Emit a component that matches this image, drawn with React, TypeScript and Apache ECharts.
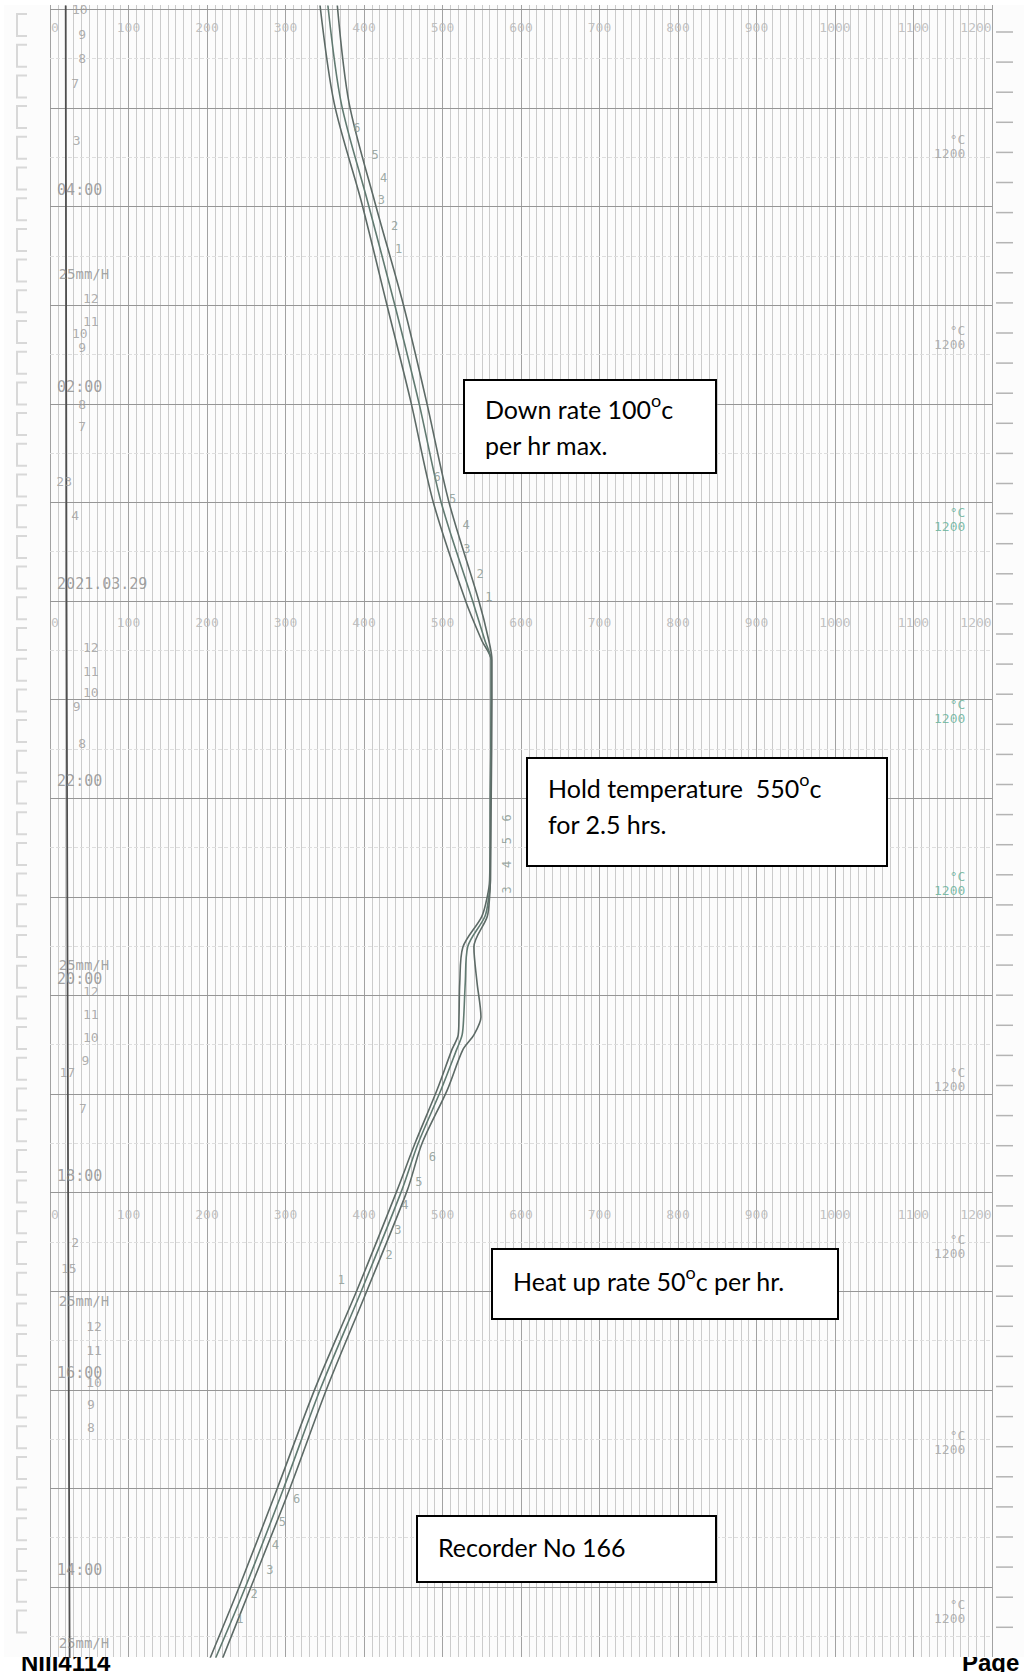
import React, { useEffect, useRef } from 'react';
import * as echarts from 'echarts';

// ---- DATA (temperature in °C on x, time in hours after 14:00 on y) ----
const tempTicks = [0, 100, 200, 300, 400, 500, 600, 700, 800, 900, 1000, 1100, 1200];
const scaleRowTimes = [15.65, 9.61, 3.61];
const hourLines = [-0.17, 0.83, 1.83, 2.83, 3.83, 4.83, 5.83, 6.83, 7.83, 8.83, 9.83, 10.83, 11.83, 12.83, 13.83, 14.83, 15.83];
const halfHourLines = [-0.67, 0.33, 1.33, 2.33, 3.33, 4.33, 5.33, 6.33, 7.33, 8.33, 9.33, 10.33, 11.33, 12.33, 13.33, 14.33, 15.33];
const timeLabelValues = [0, 2, 4, 6, 8, 10, 12, 14];
const timeLabelTexts = ['14:00', '16:00', '18:00', '20:00', '22:00', '2021.03.29', '02:00', '04:00'];
const speedMarkTimes = [13.15, 6.14, 2.73, -0.74];
const rangeLabelTimes = [14.44, 12.5, 10.66, 8.71, 6.96, 4.98, 3.28, 1.3, -0.42];
const rangeLabelTeal = [false, false, true, true, true, false, false, false, false];

const ambientTrace = [[25, -0.89], [23, 4], [21, 10], [20, 15.87]];

const traceA = [[204, -0.89], [242, -0.15], [290, 0.84], [338, 1.85], [391, 2.84], [442, 3.85], [465, 4.33], [493, 4.87], [512, 5.28], [520, 5.43], [521, 5.61], [522, 5.96], [526, 6.32], [550, 6.63], [557, 6.83], [560, 7.0], [561, 7.81], [562, 8.83], [562, 9.23], [550, 9.43], [529, 9.84], [488, 10.84], [460, 11.84], [429, 12.84], [397, 13.87], [362, 14.88], [344, 15.87]];
const traceB = [[211, -0.89], [250, -0.15], [298, 0.84], [345, 1.85], [397, 2.84], [448, 3.85], [469, 4.33], [498, 4.87], [518, 5.28], [525, 5.43], [527, 5.61], [529, 5.96], [532, 6.32], [554, 6.63], [559, 6.83], [561, 7.0], [561, 7.81], [562, 8.83], [562, 9.23], [554, 9.43], [538, 9.84], [498, 10.84], [470, 11.84], [439, 12.84], [405, 13.87], [371, 14.88], [354, 15.87]];
const traceC = [[220, -0.89], [257, -0.15], [306, 0.84], [353, 1.85], [404, 2.84], [455, 3.85], [474, 4.33], [506, 4.87], [526, 5.28], [540, 5.43], [549, 5.61], [544, 5.96], [540, 6.32], [557, 6.63], [560, 6.83], [561, 7.0], [562, 7.81], [563, 8.83], [563, 9.23], [559, 9.43], [546, 9.84], [508, 10.84], [480, 11.84], [450, 12.84], [414, 13.87], [381, 14.88], [366, 15.87]];

const penMarks: [number, number, string][] = [
  [391, 14.63, '6'], [414, 14.35, '5'], [425, 14.12, '4'], [422, 13.9, '3'], [439, 13.63, '2'], [444, 13.4, '1'],
  [493, 11.09, '6'], [513, 10.86, '5'], [530, 10.6, '4'], [531, 10.36, '3'], [548, 10.1, '2'], [559, 9.87, '1'],
  [487, 4.19, '6'], [470, 3.94, '5'], [452, 3.7, '4'], [443, 3.45, '3'], [432, 3.2, '2'], [371, 2.94, '1'],
  [314, 0.72, '6'], [296, 0.49, '5'], [287, 0.26, '4'], [280, 0.0, '3'], [260, -0.24, '2'], [242, -0.49, '1'],
];
const holdPenMarks: [number, number, string][] = [[582, 7.63, '6'], [582, 7.4, '5'], [582, 7.16, '4'], [582, 6.9, '3']];

const sideMarks: [number, number, string][] = [
  [38, 15.83, '10'], [41, 15.58, '9'], [41, 15.33, '8'], [32, 15.08, '7'], [34, 14.5, '3'],
  [52, 12.9, '12'], [52, 12.67, '11'], [38, 12.54, '10'], [41, 12.4, '9'], [41, 11.82, '8'], [41, 11.6, '7'],
  [18, 11.04, '23'], [32, 10.7, '4'],
  [52, 9.36, '12'], [52, 9.12, '11'], [52, 8.9, '10'], [34, 8.76, '9'], [41, 8.39, '8'],
  [52, 5.87, '12'], [52, 5.64, '11'], [52, 5.4, '10'], [45, 5.17, '9'], [22, 5.05, '17'], [42, 4.68, '7'],
  [32, 3.32, '2'], [24, 3.06, '15'],
  [56, 2.47, '12'], [56, 2.23, '11'], [56, 1.9, '10'], [52, 1.68, '9'], [52, 1.45, '8'],
];

const FONT_MONO = 'DejaVu Sans Mono';

function labelScatter(name: string, items: any[], label: any, z = 7) {
  return {
    name,
    type: 'scatter',
    symbolSize: 0,
    silent: true,
    z,
    data: items,
    label: { show: true, formatter: '{b}', ...label },
    emphasis: { disabled: true },
  };
}

function box(x: number, y: number, w: number, h: number, tx: number, ty: number, text: string) {
  return {
    type: 'group',
    z: 100,
    children: [
      { type: 'rect', z: 100, shape: { x, y, width: w, height: h }, style: { fill: '#ffffff', stroke: '#000000', lineWidth: 2 } },
      {
        type: 'text', z: 101, x: tx, y: ty,
        style: {
          text, fill: '#000', font: '25px Lato', lineHeight: 36,
          verticalAlign: 'top', textVerticalAlign: 'top', align: 'left', textAlign: 'left',
          rich: { s: { fontSize: 18, fontFamily: 'Lato', verticalAlign: 'top', lineHeight: 28, fill: '#000' } },
        },
      },
    ],
  };
}

export default function App() {
  const ref = useRef<HTMLDivElement>(null);
  useEffect(() => {
    if (!ref.current) return;
    const chart = echarts.init(ref.current, undefined, { renderer: 'svg' });

    const scaleItems: any[] = [];
    scaleRowTimes.forEach((t) => {
      tempTicks.forEach((T) => {
        const item: any = { name: String(T), value: [T, t] };
        if (T === 0) item.label = { offset: [5, 0] };
        if (T === 1200) item.label = { offset: [-16, 0] };
        scaleItems.push(item);
      });
    });

    const timeItems = timeLabelValues.map((t, i) => ({ name: timeLabelTexts[i], value: [9, t] }));
    const speedItems = speedMarkTimes.map((t) => ({ name: '25mm/H', value: [11, t] }));
    const rangeItems = rangeLabelTimes.map((t, i) => ({
      name: '°C\n1200', value: [1166, t],
      label: { color: rangeLabelTeal[i] ? '#5fae95' : '#a0a0a0' },
    }));
    const penItems = penMarks.map((p) => ({ name: p[2], value: [p[0], p[1]] }));
    const holdItems = holdPenMarks.map((p) => ({ name: p[2], value: [p[0], p[1]] }));
    const sideItems = sideMarks.map((p) => ({ name: p[2], value: [p[0], p[1]] }));

    const traceStyle = (color: string) => ({
      type: 'line', smooth: 0.3, symbol: 'none', z: 6, silent: true,
      lineStyle: { color, width: 1.6 },
    });

    const graphics: any[] = [];
    // footer (partly hidden under the paper)
    graphics.push({ type: 'text', z: -10, x: 21, y: 1650, style: { text: 'NIII4114', font: 'bold 24px "Liberation Sans"', fill: '#000', verticalAlign: 'top', textVerticalAlign: 'top' } });
    graphics.push({ type: 'text', z: -10, x: 962, y: 1650, style: { text: 'Page 4', font: 'bold 24px "Liberation Sans"', fill: '#000', verticalAlign: 'top', textVerticalAlign: 'top' } });
    // paper
    graphics.push({ type: 'rect', z: -5, shape: { x: 4, y: 5, width: 1020, height: 1652 }, style: { fill: '#fcfcfc' } });
    // left margin sprocket marks
    for (let y = 14; y < 1640; y += 30.7) {
      graphics.push({ type: 'polyline', z: -4, shape: { points: [[27, y], [17, y], [17, y + 22], [27, y + 22]] }, style: { stroke: '#d8d8d8', lineWidth: 2, fill: null } });
    }
    // right margin ticks
    for (let y = 32; y < 1650; y += 30.1) {
      graphics.push({ type: 'line', z: -4, shape: { x1: 996, y1: y, x2: 1013, y2: y }, style: { stroke: '#b4b4b4', lineWidth: 1.5 } });
    }
    graphics.push(box(464, 380, 252, 93, 485, 391, 'Down rate 100{s|o}c\nper hr max.'));
    graphics.push(box(527, 758, 360, 108, 548, 770, 'Hold temperature  550{s|o}c\nfor 2.5 hrs.'));
    graphics.push(box(492, 1249, 346, 70, 513, 1263, 'Heat up rate 50{s|o}c per hr.'));
    graphics.push(box(417, 1516, 299, 66, 438, 1529, 'Recorder No 166'));

    const option: any = {
      animation: false,
      backgroundColor: '#ffffff',
      grid: { left: 50, right: 32, top: 5, bottom: 15, containLabel: false },
      xAxis: {
        type: 'value', min: 0, max: 1200, interval: 100,
        axisLine: { show: false }, axisTick: { show: false }, axisLabel: { show: false },
        splitLine: { show: true, lineStyle: { color: '#a2a2a2', width: 1 } },
        minorTick: { show: false, splitNumber: 10 },
        minorSplitLine: { show: true, lineStyle: { color: '#cbcbcb', width: 1 } },
      },
      yAxis: {
        type: 'value', min: -0.88, max: 15.875,
        axisLine: { show: false }, axisTick: { show: false }, axisLabel: { show: false },
        splitLine: { show: false },
      },
      graphic: graphics,
      series: [
        {
          name: 'ambient', type: 'line', data: ambientTrace, symbol: 'none', z: 5, silent: true,
          lineStyle: { color: '#4f4f4f', width: 1.8 },
          markLine: {
            silent: true, symbol: ['none', 'none'], label: { show: false }, z: 1, animation: false,
            lineStyle: { color: '#969696', width: 1, type: 'solid' },
            data: hourLines.map((v) => ({ yAxis: v })),
          },
        },
        {
          ...labelScatter('scale', scaleItems, { position: 'inside', color: '#b3b3b3', fontSize: 13, fontFamily: FONT_MONO }, 4),
          markLine: {
            silent: true, symbol: ['none', 'none'], label: { show: false }, z: 1, animation: false,
            lineStyle: { color: '#dedede', width: 1, type: 'dashed' },
            data: halfHourLines.map((v) => ({ yAxis: v })),
          },
        },
        { name: 'TC A', data: traceA, ...traceStyle('#5d6a66') },
        { name: 'TC B', data: traceB, ...traceStyle('#617a71') },
        { name: 'TC C', data: traceC, ...traceStyle('#5d6a66') },
        labelScatter('time', timeItems, { position: 'right', distance: 0, color: '#8a8a8a', fontSize: 15, fontFamily: FONT_MONO }),
        labelScatter('speed', speedItems, { position: 'right', distance: 0, color: '#8f8f8f', fontSize: 14, fontFamily: FONT_MONO }),
        labelScatter('range', rangeItems, { position: 'left', distance: 0, align: 'right', fontSize: 13, lineHeight: 14, fontFamily: FONT_MONO }),
        labelScatter('pens', penItems, { position: 'inside', color: '#85948e', fontSize: 12, fontFamily: FONT_MONO }),
        labelScatter('holdPens', holdItems, { position: 'inside', color: '#85948e', fontSize: 12, fontFamily: FONT_MONO, rotate: 90 }),
        labelScatter('side', sideItems, { position: 'inside', color: '#9a9a9a', fontSize: 13, fontFamily: FONT_MONO }),
      ],
    };
    chart.setOption(option);
    return () => chart.dispose();
  }, []);
  return <div ref={ref} style={{ position: 'absolute', left: 0, top: 0, width: 1024, height: 1672 }} />;
}
